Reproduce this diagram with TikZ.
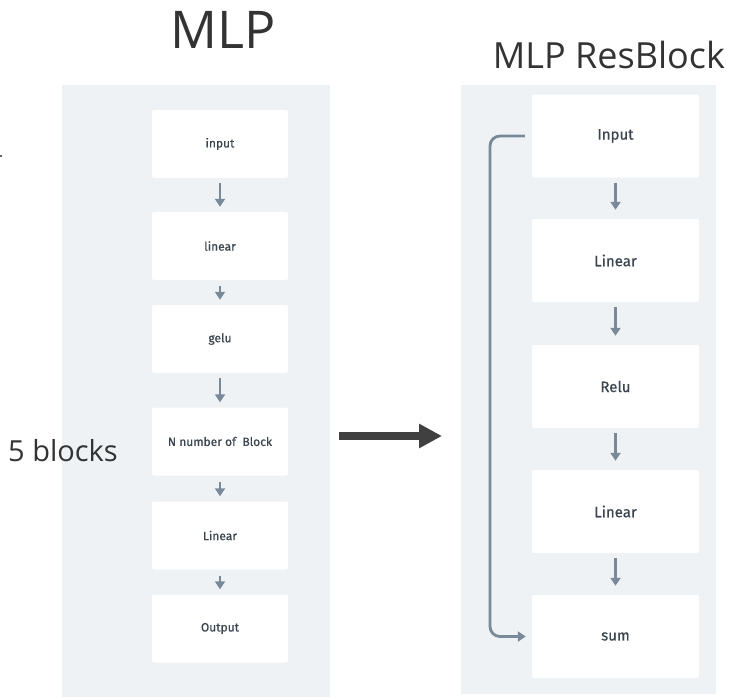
\documentclass[tikz,border=0pt]{standalone}
\usepackage{fontspec}
\setmainfont{Open Sans}
\newfontfamily\boxfont[FakeBold=0.6]{Fira Sans}
\usetikzlibrary{arrows.meta,calc}
\definecolor{panelbg}{HTML}{EEF2F5}
\definecolor{boxtext}{HTML}{3A4550}
\definecolor{flow}{HTML}{78899A}
\definecolor{titlecol}{HTML}{333333}
\definecolor{bigarrow}{HTML}{404040}
\tikzset{
  panel/.style={fill=panelbg, draw=none},
  lbox/.style={fill=white, draw=none, rounded corners=2pt, minimum width=136pt, minimum height=68pt,
    inner sep=0pt, font=\boxfont\fontsize{12}{14}\selectfont, text=boxtext},
  rbox/.style={fill=white, draw=none, rounded corners=2pt, minimum width=167pt, minimum height=83pt,
    inner sep=0pt, font=\boxfont\fontsize{15}{17}\selectfont, text=boxtext},
  flowarrow/.style={draw=flow, line width=2.6pt, -{Triangle[width=10pt,length=8pt]}},
  skiparrow/.style={draw=flow, line width=2.8pt, rounded corners=10pt, -{Triangle[width=10pt,length=8pt]}},
  title/.style={text=titlecol, inner sep=0pt, anchor=base},
}
\begin{document}
\begin{tikzpicture}[x=1pt,y=-1pt]
\useasboundingbox (0,0) rectangle (730,699);
% panels
\fill[panel] (62,85) rectangle (330,697);
\fill[panel] (461,85) rectangle (716,694);
% titles
\node[title, font=\fontsize{52}{56}\selectfont] (t1) at (223,48) {MLP};
\node[title, font=\fontsize{36}{40}\selectfont] (t2) at (609,68) {MLP ResBlock};
\node[title, font=\fontsize{29}{33}\selectfont, anchor=base west] (nb) at (8,461) {5 blocks};
\fill[titlecol] (1,156) circle (1.2pt);
% left boxes
\node[lbox] (l1) at (220,144) {input};
\node[lbox] (l2) at (220,246) {linear};
\node[lbox] (l3) at (220,339) {gelu};
\node[lbox] (l4) at (220,441.5) {N number of\ \ Block};
\node[lbox] (l5) at (220,535.5) {Linear};
\node[lbox] (l6) at (220,628.5) {Output};
\draw[flowarrow] ($(l1.south)+(0,5)$) -- ($(l2.north)+(0,-5)$);
\draw[flowarrow] ($(l2.south)+(0,6)$) -- ($(l3.north)+(0,-5)$);
\draw[flowarrow] ($(l3.south)+(0,5)$) -- ($(l4.north)+(0,-5)$);
\draw[flowarrow] ($(l4.south)+(0,6)$) -- ($(l5.north)+(0,-5)$);
\draw[flowarrow] ($(l5.south)+(0,6)$) -- ($(l6.north)+(0,-5)$);
% right boxes
\node[rbox] (r1) at (615.5,136) {Input};
\node[rbox] (r2) at (615.5,260.5) {Linear};
\node[rbox] (r3) at (615.5,386.5) {Relu};
\node[rbox] (r4) at (615.5,511.5) {Linear};
\node[rbox] (r5) at (615.5,636.5) {sum};
\draw[flowarrow] ($(r1.south)+(0,5)$) -- ($(r2.north)+(0,-9)$);
\draw[flowarrow] ($(r2.south)+(0,5)$) -- ($(r3.north)+(0,-9)$);
\draw[flowarrow] ($(r3.south)+(0,5)$) -- ($(r4.north)+(0,-9)$);
\draw[flowarrow] ($(r4.south)+(0,5)$) -- ($(r5.north)+(0,-9)$);
\coordinate (skipx) at (490,0);
\coordinate (sk1) at ($(r1.west)+(-7,0)$);
\coordinate (sk2) at ($(r5.west)+(-6,0)$);
\draw[skiparrow] (sk1) -- (sk1 -| skipx) -- (sk2 -| skipx) -- (sk2);
% big arrow
\coordinate (ba1) at (339,436);
\coordinate (ba2) at (442,436);
\draw[bigarrow, line width=8pt, -{Triangle[width=23pt,length=23pt]}] (ba1) -- (ba2);
\end{tikzpicture}
\end{document}
